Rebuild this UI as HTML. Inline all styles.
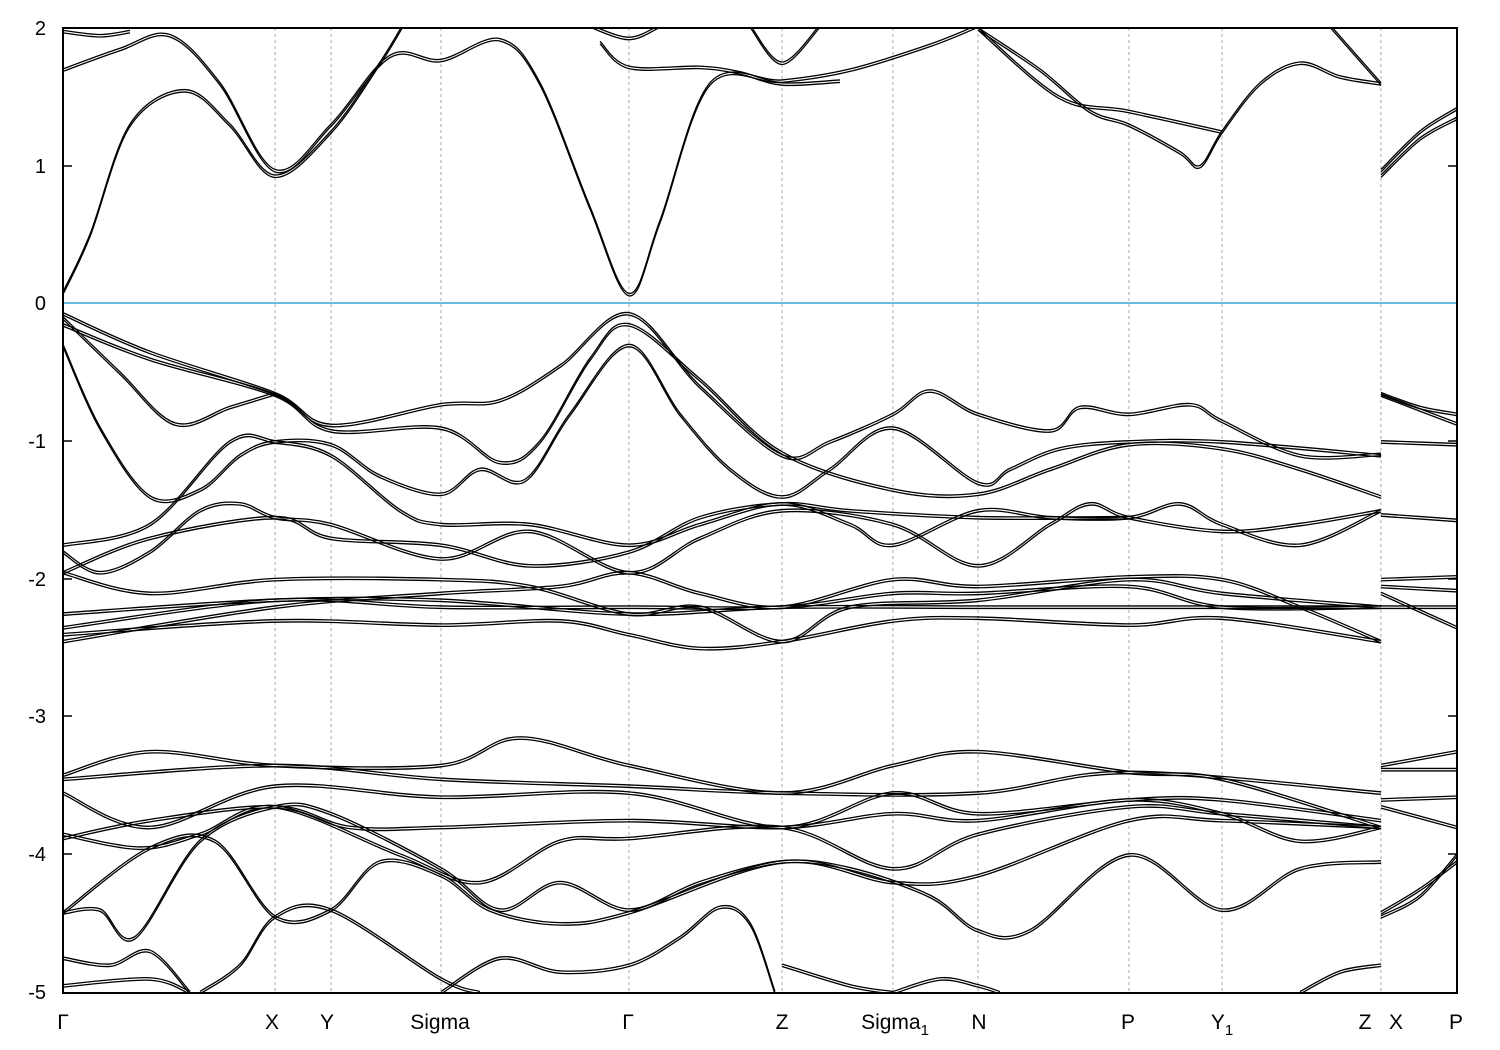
<!DOCTYPE html>
<html><head><meta charset="utf-8"><style>
html,body{margin:0;padding:0;background:#fff;}
svg{display:block;font-family:"Liberation Sans",sans-serif;}
</style></head><body>
<svg id="s" width="1500" height="1050" xmlns="http://www.w3.org/2000/svg">
<defs><clipPath id="c"><rect x="63" y="28" width="1394" height="965"/></clipPath></defs>
<rect width="1500" height="1050" fill="#fff"/>
<g stroke="#aaa" stroke-dasharray="3,3" stroke-width="1">
<line x1="275" y1="28" x2="275" y2="993"/><line x1="331" y1="28" x2="331" y2="993"/>
<line x1="441" y1="28" x2="441" y2="993"/><line x1="629" y1="28" x2="629" y2="993"/>
<line x1="782" y1="28" x2="782" y2="993"/><line x1="893" y1="28" x2="893" y2="993"/>
<line x1="978" y1="28" x2="978" y2="993"/><line x1="1129" y1="28" x2="1129" y2="993"/>
<line x1="1222" y1="28" x2="1222" y2="993"/><line x1="1381" y1="28" x2="1381" y2="993"/>
</g>
<line x1="63" y1="303" x2="1457" y2="303" stroke="#3ba3d8" stroke-width="1.5"/>
<g id="bands" fill="none" stroke="#000" stroke-width="1.3" clip-path="url(#c)"></g>
<rect x="63" y="28" width="1394" height="965" fill="none" stroke="#000" stroke-width="2"/>
<g stroke="#000" stroke-width="1.5">
<line x1="63" y1="166" x2="72" y2="166"/><line x1="63" y1="441" x2="72" y2="441"/><line x1="63" y1="579" x2="72" y2="579"/><line x1="63" y1="716" x2="72" y2="716"/><line x1="63" y1="854" x2="72" y2="854"/>
<line x1="1448" y1="166" x2="1457" y2="166"/><line x1="1448" y1="441" x2="1457" y2="441"/><line x1="1448" y1="579" x2="1457" y2="579"/><line x1="1448" y1="716" x2="1457" y2="716"/><line x1="1448" y1="854" x2="1457" y2="854"/>
</g>
<g font-size="20" text-anchor="end" fill="#000">
<text x="46" y="35">2</text><text x="46" y="173">1</text><text x="46" y="310">0</text>
<text x="46" y="448">-1</text><text x="46" y="586">-2</text><text x="46" y="723">-3</text>
<text x="46" y="861">-4</text><text x="46" y="999">-5</text>
</g>
<g font-size="21" text-anchor="middle" fill="#000">
<text x="63" y="1029">Γ</text><text x="272" y="1029">X</text><text x="327" y="1029">Y</text>
<text x="440" y="1029">Sigma</text><text x="628" y="1029">Γ</text><text x="782" y="1029">Z</text>
<text x="895" y="1029">Sigma<tspan font-size="15" dy="6">1</tspan></text>
<text x="979" y="1029">N</text><text x="1128" y="1029">P</text>
<text x="1222" y="1029">Y<tspan font-size="15" dy="6">1</tspan></text>
<text x="1365" y="1029">Z</text><text x="1396" y="1029">X</text><text x="1456" y="1029">P</text>
</g>
</svg>
<script>
var Y=function(e){return 303-e*137.7;};
var B=[
[[63,0.08],[90,0.5],[130,1.3],[185,1.55],[230,1.3],[275,0.93],[331,1.25],[380,1.75],[405,2.05]],
[[63,1.7],[120,1.85],[170,1.95],[220,1.6],[275,0.97],[331,1.3],[390,1.8],[441,1.77],[500,1.92],[540,1.6],[590,0.7],[629,0.07],[660,0.6],[710,1.6],[782,1.62],[850,1.7],[930,1.88],[978,2.02]],
[[63,1.98],[100,1.95],[130,1.98]],
[[590,2.02],[629,1.93],[660,2.02]],
[[600,1.9],[629,1.72],[700,1.72],[740,1.68],[782,1.6],[840,1.62]],
[[750,2.02],[782,1.75],[820,2.02]],
[[978,2.0],[1040,1.7],[1090,1.4],[1129,1.3],[1180,1.1],[1200,1.0],[1222,1.25],[1260,1.6],[1300,1.75],[1340,1.65],[1381,1.6]],
[[978,2.0],[1060,1.5],[1129,1.4],[1222,1.25]],
[[1330,2.02],[1381,1.6]],
[[1381,0.93],[1420,1.2],[1457,1.35]],
[[1381,0.97],[1420,1.25],[1457,1.42]],
[[63,-0.07],[150,-0.35],[275,-0.65],[331,-0.88],[441,-0.73],[500,-0.7],[560,-0.45],[629,-0.07],[700,-0.6],[782,-1.1],[830,-1.0],[893,-0.8],[930,-0.63],[978,-0.8],[1050,-0.92],[1080,-0.75],[1129,-0.8],[1190,-0.73],[1222,-0.85],[1300,-1.1],[1381,-1.09]],
[[63,-0.15],[150,-0.4],[275,-0.66],[331,-0.92],[441,-0.9],[500,-1.15],[540,-1.0],[590,-0.4],[629,-0.15],[700,-0.55],[782,-1.08],[893,-1.35],[978,-1.38],[1050,-1.2],[1129,-1.02],[1222,-1.05],[1300,-1.2],[1381,-1.4]],
[[63,-0.3],[100,-0.9],[150,-1.4],[200,-1.35],[240,-1.1],[275,-1.0],[331,-1.02],[380,-1.25],[441,-1.38],[480,-1.2],[525,-1.28],[570,-0.8],[629,-0.3],[680,-0.8],[730,-1.2],[782,-1.4],[830,-1.2],[893,-0.9],[978,-1.3],[1010,-1.2],[1060,-1.05],[1129,-1.0],[1222,-1.0],[1381,-1.1]],
[[63,-0.1],[120,-0.5],[175,-0.87],[230,-0.75],[275,-0.65]],
[[63,-1.75],[150,-1.6],[230,-1.0],[275,-1.0],[331,-1.1],[400,-1.5],[441,-1.6],[530,-1.6],[629,-1.75],[700,-1.6],[782,-1.45],[850,-1.6],[893,-1.75],[978,-1.5],[1050,-1.55],[1129,-1.55],[1180,-1.45],[1222,-1.6],[1300,-1.75],[1381,-1.5]],
[[63,-1.8],[100,-1.95],[150,-1.8],[200,-1.5],[240,-1.45],[275,-1.55],[331,-1.6],[441,-1.85],[530,-1.65],[629,-1.95],[700,-1.7],[782,-1.5],[893,-1.6],[978,-1.9],[1050,-1.6],[1090,-1.45],[1129,-1.55],[1222,-1.65],[1300,-1.6],[1381,-1.5]],
[[63,-1.95],[150,-1.7],[275,-1.55],[331,-1.7],[441,-1.75],[530,-1.9],[629,-1.8],[700,-1.55],[782,-1.45],[850,-1.5],[978,-1.55],[1129,-1.55]],
[[63,-2.25],[275,-2.15],[441,-2.15],[629,-2.25],[782,-2.2],[978,-2.2],[1129,-2.2],[1381,-2.2]],
[[63,-2.4],[275,-2.3],[441,-2.33],[560,-2.3],[629,-2.4],[700,-2.5],[782,-2.45],[893,-2.3],[978,-2.28],[1129,-2.33],[1222,-2.28],[1381,-2.45]],
[[63,-2.45],[275,-2.2],[441,-2.1],[560,-2.05],[629,-1.95],[700,-2.1],[782,-2.2],[893,-2.0],[978,-2.05],[1129,-1.98],[1222,-2.0],[1300,-2.2],[1381,-2.45]],
[[63,-1.95],[150,-2.1],[275,-2.0],[441,-2.0],[530,-2.05],[629,-2.25],[700,-2.2],[782,-2.45],[850,-2.2],[978,-2.15],[1129,-2.0],[1222,-2.1],[1381,-2.2]],
[[63,-2.35],[275,-2.15],[441,-2.2],[629,-2.2],[782,-2.2],[893,-2.1],[978,-2.1],[1129,-2.05],[1222,-2.2],[1381,-2.2]],
[[63,-3.42],[150,-3.25],[275,-3.35],[441,-3.35],[520,-3.15],[629,-3.35],[782,-3.55],[893,-3.35],[978,-3.25],[1129,-3.4],[1222,-3.45],[1381,-3.8]],
[[63,-3.45],[275,-3.35],[441,-3.45],[629,-3.5],[782,-3.55],[978,-3.55],[1129,-3.4],[1381,-3.55]],
[[63,-3.55],[150,-3.8],[275,-3.5],[441,-3.58],[629,-3.55],[782,-3.8],[893,-3.55],[978,-3.7],[1129,-3.6],[1222,-3.6],[1381,-3.75]],
[[63,-3.88],[150,-3.75],[275,-3.65],[350,-3.8],[441,-3.8],[629,-3.75],[782,-3.8],[893,-3.7],[978,-3.75],[1129,-3.6],[1222,-3.7],[1300,-3.9],[1381,-3.8]],
[[63,-3.85],[140,-3.95],[200,-3.85],[275,-3.65],[400,-4.0],[480,-4.2],[560,-3.9],[629,-3.88],[782,-3.8],[893,-4.1],[978,-3.85],[1129,-3.65],[1222,-3.7],[1381,-3.8]],
[[63,-4.42],[100,-4.4],[135,-4.6],[200,-3.9],[275,-3.65],[331,-3.7],[441,-4.1],[500,-4.4],[560,-4.2],[629,-4.4],[700,-4.2],[782,-4.05],[850,-4.1],[930,-4.3],[978,-4.55],[1030,-4.55],[1129,-4.0],[1222,-4.4],[1300,-4.1],[1381,-4.05]],
[[63,-4.42],[150,-3.95],[215,-3.9],[275,-4.45],[331,-4.4],[380,-4.05],[441,-4.15],[490,-4.4],[560,-4.5],[629,-4.42],[782,-4.05],[893,-4.2],[978,-4.15],[1129,-3.75],[1222,-3.75],[1381,-3.8]],
[[63,-4.75],[110,-4.8],[150,-4.7],[190,-5.0]],
[[63,-4.95],[150,-4.9],[190,-5.0]],
[[200,-5.0],[240,-4.8],[275,-4.45],[331,-4.4],[441,-4.9],[480,-5.0]],
[[441,-5.0],[500,-4.75],[560,-4.85],[629,-4.8],[680,-4.6],[720,-4.38],[750,-4.5],[775,-5.0]],
[[782,-4.8],[850,-4.95],[893,-5.0]],
[[893,-5.0],[940,-4.9],[978,-4.95],[1000,-5.0]],
[[1300,-5],[1340,-4.85],[1381,-4.8]],
[[1381,-0.65],[1420,-0.75],[1457,-0.8]],
[[1381,-0.66],[1457,-0.87]],
[[1381,-1.0],[1457,-1.02]],
[[1381,-1.53],[1457,-1.57]],
[[1381,-2.0],[1457,-1.98]],
[[1381,-2.1],[1457,-2.35]],
[[1381,-2.2],[1457,-2.2]],
[[1381,-2.05],[1457,-2.08]],
[[1381,-3.35],[1457,-3.25]],
[[1381,-3.38],[1457,-3.38]],
[[1381,-3.65],[1457,-3.8]],
[[1381,-3.6],[1457,-3.58]],
[[1381,-4.45],[1420,-4.3],[1457,-4.0]],
[[1381,-4.42],[1420,-4.25],[1457,-4.05]]
];
function path(p,dy){var q=p.map(function(a){return [a[0],Y(a[1])+dy];});
var d="M"+q[0][0]+","+q[0][1];
for(var i=0;i<q.length-1;i++){var p0=q[i-1]||q[i],p1=q[i],p2=q[i+1],p3=q[i+2]||p2;
d+=" C"+(p1[0]+(p2[0]-p0[0])/6)+","+(p1[1]+(p2[1]-p0[1])/6)+" "+(p2[0]-(p3[0]-p1[0])/6)+","+(p2[1]-(p3[1]-p1[1])/6)+" "+p2[0]+","+p2[1];}
return d;}
var g=document.getElementById("bands"),h="";
B.forEach(function(b){h+='<path d="'+path(b,0)+'"/><path d="'+path(b,2.5)+'"/>';});
g.innerHTML=h;
</script>
</body></html>
